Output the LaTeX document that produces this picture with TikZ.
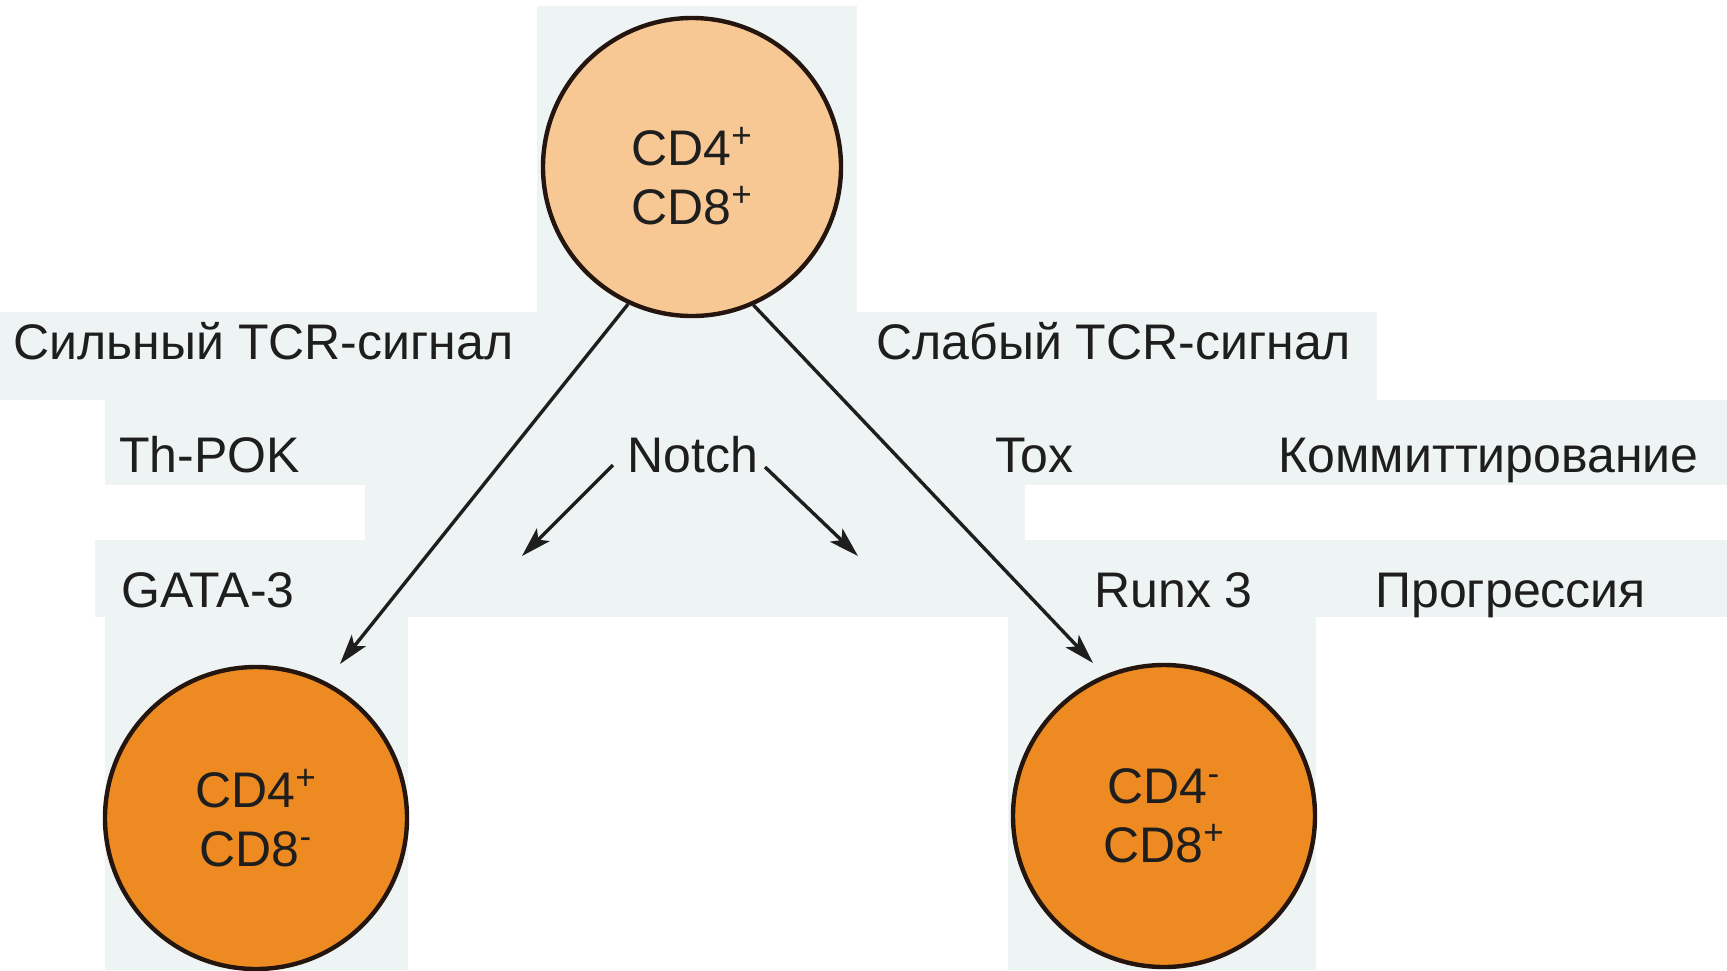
\documentclass[tikz,border=0pt]{standalone}
\usepackage{fontspec}
\setmainfont{Liberation Sans}
\usetikzlibrary{arrows.meta}
\definecolor{bgc}{HTML}{EEF3F3}
\definecolor{peach}{HTML}{F8C894}
\definecolor{orng}{HTML}{EE8A22}
\definecolor{edge}{HTML}{24160E}
\definecolor{txt}{HTML}{1E1E1E}
\begin{document}
\begin{tikzpicture}[x=0.5pt,y=-0.5pt,
  cell/.style={circle,draw=edge,line width=2.2pt,align=center,inner sep=0pt,text=txt,
    font=\fontsize{25}{29.5}\selectfont},
  lbl/.style={anchor=base west,inner sep=0pt,text=txt,font=\fontsize{25}{30}\selectfont},
  arr/.style={line width=1.7pt,draw=txt,-{Stealth[length=15pt,width=9pt,inset=3.5pt]}}]
\useasboundingbox (0,0) rectangle (1727,970);
\fill[white] (0,0) rectangle (1727,970);
% light background patches
\fill[bgc] (537,6) rectangle (857,312);
\fill[bgc] (0,312) rectangle (1377,400);
\fill[bgc] (105,400) rectangle (1727,485);
\fill[bgc] (365,485) rectangle (1025,540);
\fill[bgc] (95,540) rectangle (1727,617);
\fill[bgc] (105,617) rectangle (408,970);
\fill[bgc] (1008,617) rectangle (1316,970);
% cells
\node[cell,fill=peach,minimum size=149pt] (top) at (692,167) {\rule{0pt}{28pt}CD4\textsuperscript{+}\\CD8\textsuperscript{+}};
\node[cell,fill=orng,minimum size=151pt] (cd4) at (256,818) {CD4\textsuperscript{+}\\CD8\textsuperscript{-}};
\node[cell,fill=orng,minimum size=151pt] (cd8) at (1164,816) {CD4\textsuperscript{-}\\CD8\textsuperscript{+}};
% labels
\node[lbl] (strong) at (13,359) {Сильный TCR-сигнал};
\node[lbl] (weak) at (876,359) {Слабый TCR-сигнал};
\node[lbl] (thpok) at (119,472) {Th-POK};
\node[lbl] (notch) at (627,472) {Notch};
\node[lbl] (tox) at (995,472) {Tox};
\node[lbl] (commit) at (1278,472) {Коммиттирование};
\node[lbl] (gata) at (121,607) {GATA-3};
\node[lbl] (runx) at (1094,607) {Runx 3};
\node[lbl] (progr) at (1375,607) {Прогрессия};
% connector ends
\coordinate (tipL) at (340,664);
\coordinate (tipR) at (1093,663);
\coordinate (nLs) at (613,465);
\coordinate (nLe) at (522,556);
\coordinate (nRs) at (765,467);
\coordinate (nRe) at (858,556);
% connectors
\draw[arr] (top.245) -- (tipL);
\draw[arr] (top.294) -- (tipR);
\draw[arr] (nLs) -- (nLe);
\draw[arr] (nRs) -- (nRe);
\end{tikzpicture}
\end{document}
